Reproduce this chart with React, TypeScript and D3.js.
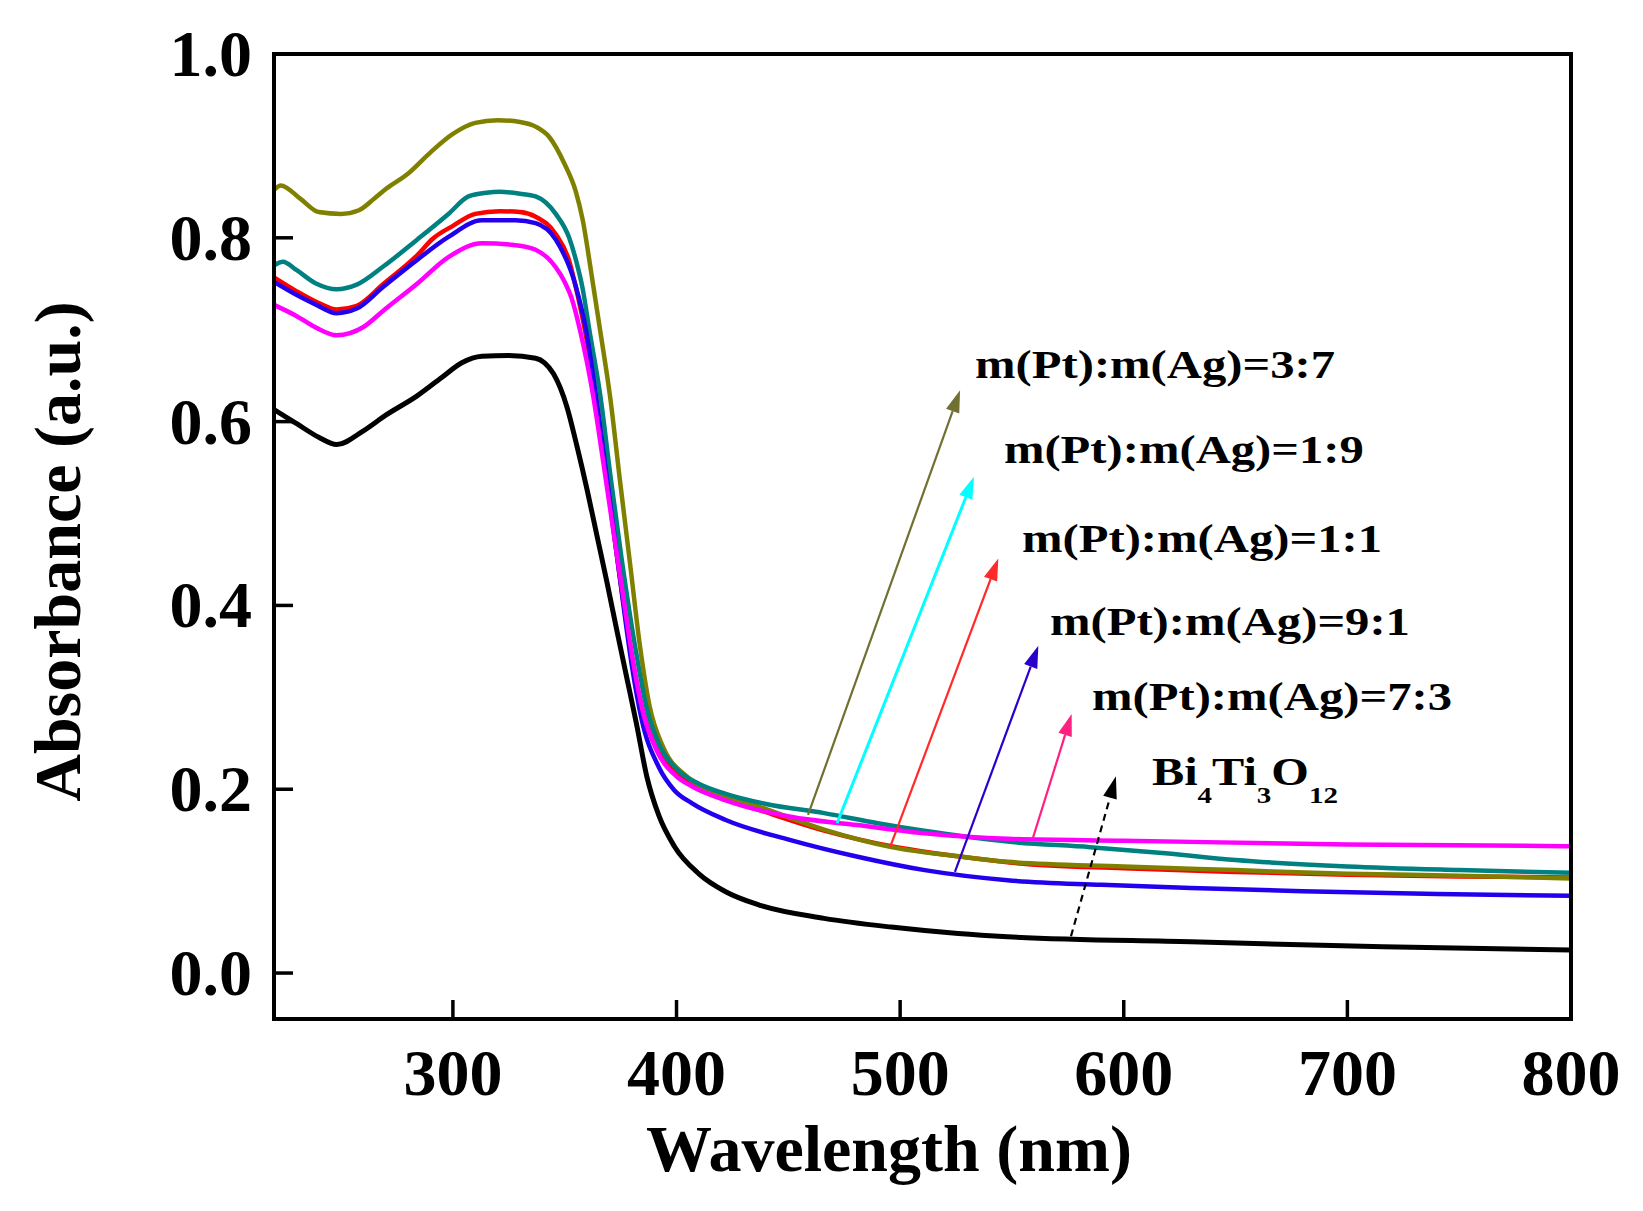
import React from "react";
import * as d3 from "d3";

// ---- data (wavelength nm, absorbance a.u.) ----
const BI4TI3O12: [number, number][] = [[220,0.613],[230,0.598],[240,0.583],[248,0.575],[260,0.59],[270,0.607],[284,0.628],[295,0.648],[304,0.664],[313,0.671],[325,0.672],[337,0.669],[341,0.664],[345,0.652],[351,0.616],[355.5,0.573],[360,0.526],[364.5,0.475],[369,0.424],[373.3,0.373],[377.7,0.322],[382.2,0.27],[386.7,0.214],[392,0.172],[399,0.138],[410,0.108],[422,0.0885],[437,0.074],[466,0.0595],[496,0.05],[526,0.043],[548,0.0395],[630,0.034],[716,0.0286],[800,0.025]];
const PT_AG_3_7: [number, number][] = [[220,0.852],[223,0.857],[232,0.842],[240,0.828],[250,0.826],[258,0.83],[265,0.843],[270,0.853],[280,0.87],[290,0.893],[300,0.913],[310,0.925],[320,0.928],[330,0.926],[337,0.921],[343,0.91],[350,0.88],[355,0.85],[358,0.82],[362,0.76],[365.8,0.7],[370.3,0.627],[374.7,0.536],[379.2,0.446],[383.7,0.355],[388,0.29],[394,0.246],[404.6,0.214],[414,0.199],[437,0.181],[466,0.156],[496,0.137],[526,0.127],[548,0.121],[600,0.116],[650,0.112],[700,0.108],[750,0.106],[800,0.103]];
const PT_AG_1_9: [number, number][] = [[220,0.77],[224,0.774],[230,0.765],[239,0.75],[248,0.744],[257,0.749],[269,0.769],[284,0.798],[298,0.826],[307,0.845],[315,0.849],[321,0.85],[330,0.848],[337,0.845],[346,0.826],[352,0.8],[355,0.776],[358,0.745],[361,0.7],[366,0.627],[370.5,0.54],[375.5,0.45],[381.5,0.355],[386.5,0.29],[392,0.25],[400,0.222],[410,0.206],[422,0.195],[440,0.184],[466,0.174],[490,0.163],[510,0.155],[548,0.143],[585,0.137],[620,0.13],[650,0.123],[700,0.116],[750,0.112],[800,0.109]];
const PT_AG_1_1: [number, number][] = [[220,0.757],[230,0.742],[240,0.729],[248,0.722],[257,0.726],[269,0.75],[284,0.781],[291,0.799],[300,0.813],[310,0.826],[321,0.829],[330,0.828],[337,0.823],[346,0.804],[352,0.775],[356,0.735],[359,0.7],[364,0.627],[368.5,0.545],[373,0.46],[379,0.36],[384,0.295],[390,0.25],[400,0.217],[410,0.2],[422,0.19],[440,0.175],[466,0.155],[496,0.138],[526,0.127],[550,0.12],[600,0.114],[650,0.11],[700,0.107],[750,0.105],[800,0.104]];
const PT_AG_9_1: [number, number][] = [[220,0.752],[230,0.738],[239,0.727],[248,0.718],[257,0.723],[269,0.747],[284,0.776],[298,0.801],[313,0.819],[328,0.819],[337,0.816],[346,0.798],[355,0.747],[359.5,0.7],[364,0.627],[368,0.555],[372,0.48],[376,0.405],[380,0.335],[384.5,0.275],[392,0.2245],[399,0.199],[407,0.1846],[422,0.1665],[451,0.1447],[481,0.1266],[511,0.112],[548,0.101],[590,0.096],[630,0.0925],[680,0.089],[740,0.086],[800,0.084]];
const PT_AG_7_3: [number, number][] = [[220,0.727],[230,0.715],[239,0.702],[248,0.694],[260,0.703],[269,0.721],[284,0.75],[298,0.779],[313,0.794],[328,0.792],[337,0.787],[346,0.768],[350,0.752],[353,0.735],[356.8,0.7],[362.8,0.627],[367.3,0.555],[371.7,0.482],[376.2,0.409],[380.7,0.337],[385.2,0.282],[391,0.243],[400,0.214],[407,0.203],[422,0.188],[451,0.17],[481,0.161],[511,0.152],[548,0.146],[600,0.144],[700,0.14],[800,0.138]];

const X_TICKS = [300, 400, 500, 600, 700, 800];
const Y_TICKS = [0.0, 0.2, 0.4, 0.6, 0.8, 1.0];

const SERIES_ORDER = ["Bi4Ti3O12", "1:1", "3:7", "1:9", "9:1", "7:3"];
const SERIES_DATA = [BI4TI3O12, PT_AG_1_1, PT_AG_3_7, PT_AG_1_9, PT_AG_9_1, PT_AG_7_3];
const SERIES_COLORS = ["#000000", "#ff0000", "#808000", "#008080", "#2200ee", "#ff00ff"];

// annotation labels and arrows (data coordinates)
const LABEL_TEXTS = ["m(Pt):m(Ag)=3:7", "m(Pt):m(Ag)=1:9", "m(Pt):m(Ag)=1:1", "m(Pt):m(Ag)=9:1", "m(Pt):m(Ag)=7:3"];
const LABEL_POS: [number, number][] = [[533.5, 0.647], [546.4, 0.555], [554.5, 0.458], [567, 0.368], [585.8, 0.286]];
const FORMULA_POS: [number, number] = [612.6, 0.205];
const ARROW_FROM: [number, number][] = [[458.8, 0.172], [471.8, 0.163], [495.5, 0.137], [524.5, 0.110], [559.4, 0.147], [576.4, 0.040]];
const ARROW_TO: [number, number][] = [[526.8, 0.634], [533, 0.540], [543.9, 0.451], [561.8, 0.356], [576.7, 0.282], [596.5, 0.214]];
const ARROW_COLORS = ["#707030", "#00ffff", "#ff2a2a", "#2a00cc", "#ff2080", "#000000"];
const ARROW_DASHED = [false, false, false, false, false, true];

const W = 1643, H = 1211;
const M = { left: 274, right: 1571, top: 54, bottom: 1019 };
const FONT = "'Liberation Serif', 'Times New Roman', serif";

export default function App() {
  const x = d3.scaleLinear().domain([220, 800]).range([M.left, M.right]);
  const y = d3.scaleLinear().domain([-0.05, 1.0]).range([M.bottom, M.top]);
  const line = d3.line<[number, number]>().x(d => x(d[0])).y(d => y(d[1])).curve(d3.curveMonotoneX);

  const arrows = ARROW_FROM.map((f, i) => {
    const x1 = x(f[0]), y1 = y(f[1]);
    const x2 = x(ARROW_TO[i][0]), y2 = y(ARROW_TO[i][1]);
    const ang = Math.atan2(y2 - y1, x2 - x1);
    const L = 22, hw = 7;
    const bx = x2 - L * Math.cos(ang), by = y2 - L * Math.sin(ang);
    const px = -Math.sin(ang), py = Math.cos(ang);
    const head = `${x2},${y2} ${bx + hw * px},${by + hw * py} ${bx - hw * px},${by - hw * py}`;
    return { x1, y1, bx, by, head, color: ARROW_COLORS[i], dashed: ARROW_DASHED[i], w: i === 1 ? 3 : 2.2 };
  });

  return (
    <svg width={W} height={H} style={{ position: "absolute", left: 0, top: 0, background: "#fff" }}
      fontFamily={FONT} fontWeight="bold">
      <defs>
        <clipPath id="plotclip">
          <rect x={M.left} y={M.top} width={M.right - M.left} height={M.bottom - M.top} />
        </clipPath>
      </defs>
      {/* curves */}
      <g clipPath="url(#plotclip)">
        {SERIES_DATA.map((d, i) => (
          <path key={SERIES_ORDER[i]} d={line(d) || ""} fill="none" stroke={SERIES_COLORS[i]}
            strokeWidth={i === 0 ? 5 : 4.5} strokeLinejoin="round" />
        ))}
      </g>
      {/* arrows */}
      {arrows.map((a, i) => (
        <g key={"arr" + i}>
          <line x1={a.x1} y1={a.y1} x2={a.bx} y2={a.by} stroke={a.color} strokeWidth={a.w}
            strokeDasharray={a.dashed ? "7,5" : undefined} />
          <polygon points={a.head} fill={a.color} />
        </g>
      ))}
      {/* labels */}
      {LABEL_TEXTS.map((t, i) => (
        <text key={t} x={x(LABEL_POS[i][0])} y={y(LABEL_POS[i][1])} fontSize={40}
          textLength={360} lengthAdjust="spacingAndGlyphs" fill="#000">{t}</text>
      ))}
      <text x={x(FORMULA_POS[0])} y={y(FORMULA_POS[1])} fontSize={40} textLength={186}
        lengthAdjust="spacingAndGlyphs" fill="#000">
        Bi<tspan fontSize={24} dy={18}>4</tspan><tspan dy={-18}>Ti</tspan><tspan fontSize={24} dy={18}>3</tspan><tspan dy={-18}>O</tspan><tspan fontSize={24} dy={18}>12</tspan>
      </text>
      {/* frame */}
      <rect x={M.left} y={M.top} width={M.right - M.left} height={M.bottom - M.top}
        fill="none" stroke="#000" strokeWidth={4} />
      {/* x ticks */}
      {X_TICKS.map(t => (
        <g key={"xt" + t}>
          <line x1={x(t)} x2={x(t)} y1={M.bottom} y2={M.bottom - 19} stroke="#000" strokeWidth={3.5} />
          <text x={x(t)} y={M.bottom + 76} fontSize={66} textAnchor="middle">{t}</text>
        </g>
      ))}
      {/* y ticks */}
      {Y_TICKS.map(t => (
        <g key={"yt" + t}>
          <line x1={M.left} x2={M.left + 19} y1={y(t)} y2={y(t)} stroke="#000" strokeWidth={3.5} />
          <text x={M.left - 22} y={y(t) + 22} fontSize={66} textAnchor="end">{t.toFixed(1)}</text>
        </g>
      ))}
      {/* axis titles */}
      <text x={889} y={1171} fontSize={66} textAnchor="middle">Wavelength (nm)</text>
      <text transform={`translate(80, ${(M.top + M.bottom) / 2 + 15}) rotate(-90)`} fontSize={66}
        textAnchor="middle">Absorbance (a.u.)</text>
    </svg>
  );
}
